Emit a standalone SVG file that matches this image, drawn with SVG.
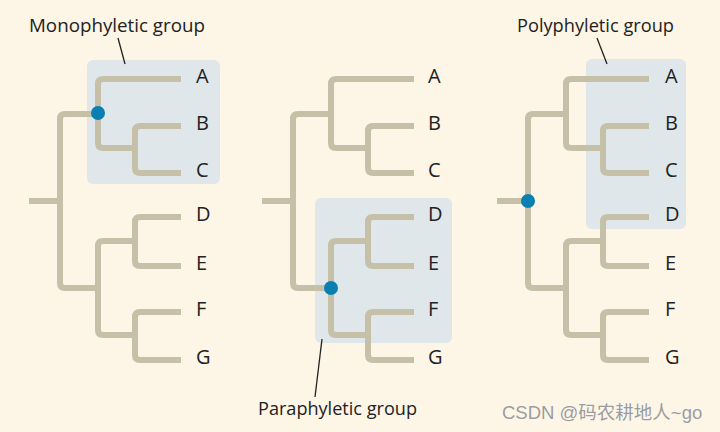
<svg xmlns="http://www.w3.org/2000/svg" xmlns:xlink="http://www.w3.org/1999/xlink" width="720" height="432" viewBox="0 0 720 432">
<style>
.bg{fill:#fdf5e5}
.box{fill:#dfe7ea}
.br{fill:none;stroke:#c6c0a8;stroke-width:6;stroke-linecap:butt;stroke-linejoin:round}
.dot{fill:#0a7fb2}
.lead{stroke:#222;stroke-width:1.3;fill:none}
.lbl{font-family:"Open Sans","Liberation Sans",sans-serif;font-size:19px;fill:#222}
.leaf{font-family:"Open Sans","Liberation Sans",sans-serif;font-size:20px;fill:#222}
.wm{font-family:"Liberation Sans","Noto Sans CJK SC",sans-serif;font-size:18.5px;fill:#9c9c9c;stroke:#ffffff;stroke-width:0.4;paint-order:stroke}
</style>
<defs>
<g id="tree">
<path class="br" d="M29,201 H60"/>
<path class="br" d="M98,114 H65 Q60,114 60,119 V283 Q60,288 65,288 H98"/>
<path class="br" d="M181,79 H103 Q98,79 98,84 V143 Q98,148 103,148 H135"/>
<path class="br" d="M181,126 H140 Q135,126 135,131 V168 Q135,173 140,173 H181"/>
<path class="br" d="M135,241 H103 Q98,241 98,246 V330 Q98,335 103,335 H135"/>
<path class="br" d="M181,217 H140 Q135,217 135,222 V261 Q135,266 140,266 H181"/>
<path class="br" d="M181,312 H140 Q135,312 135,317 V355 Q135,360 140,360 H181"/>
</g>
<g id="leaves">
<text class="leaf" x="196" y="83">A</text>
<text class="leaf" x="196" y="130">B</text>
<text class="leaf" x="196" y="177">C</text>
<text class="leaf" x="196" y="221">D</text>
<text class="leaf" x="196" y="270">E</text>
<text class="leaf" x="196" y="316">F</text>
<text class="leaf" x="196" y="364">G</text>
</g>
</defs>
<rect class="bg" x="0" y="0" width="720" height="432"/>

<g id="monophyletic">
<rect class="box" x="87" y="60" width="133" height="124" rx="6"/>
<text class="lbl" x="29" y="32" textLength="176" lengthAdjust="spacingAndGlyphs">Monophyletic group</text>
<line class="lead" x1="118" y1="38" x2="125" y2="64"/>
</g>
<g id="paraphyletic">
<rect class="box" x="315" y="198" width="137" height="145" rx="6"/>
<text class="lbl" x="258" y="415" textLength="159" lengthAdjust="spacingAndGlyphs">Paraphyletic group</text>
<line class="lead" x1="322" y1="339" x2="315" y2="397"/>
</g>
<g id="polyphyletic">
<rect class="box" x="586" y="59" width="100" height="170" rx="6"/>
<text class="lbl" x="517" y="32" textLength="157" lengthAdjust="spacingAndGlyphs">Polyphyletic group</text>
<line class="lead" x1="597" y1="38" x2="607" y2="64"/>
</g>

<g id="connectors">
<use xlink:href="#tree" href="#tree"/>
<use xlink:href="#tree" href="#tree" x="233"/>
<use xlink:href="#tree" href="#tree" x="468"/>
</g>

<g id="ancestors">
<circle class="dot" cx="98" cy="113" r="7"/>
<circle class="dot" cx="331" cy="288" r="7"/>
<circle class="dot" cx="528" cy="201" r="7"/>
</g>

<g id="taxa">
<use xlink:href="#leaves" href="#leaves"/>
<use xlink:href="#leaves" href="#leaves" x="232"/>
<use xlink:href="#leaves" href="#leaves" x="469"/>
</g>

<text class="wm" x="502" y="419">CSDN @码农耕地人~go</text>
</svg>
